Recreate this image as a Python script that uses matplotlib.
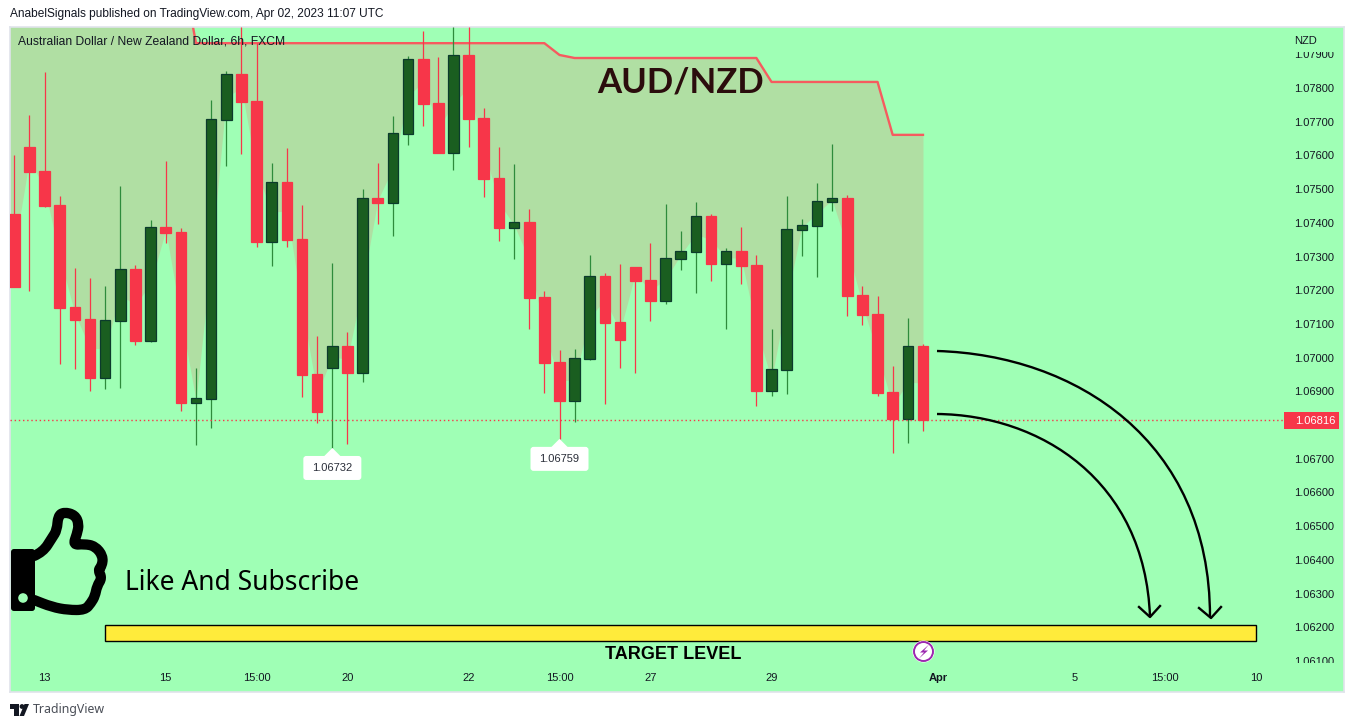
#!/usr/bin/env python3
"""AUD/NZD 6h candle chart with a target level, TradingView style."""

import matplotlib
matplotlib.use("Agg")
import matplotlib.pyplot as plt
from matplotlib.patches import Circle, FancyBboxPatch, PathPatch, Polygon, Rectangle
from matplotlib.path import Path

W, H = 1354, 727
BG = "#9FFFB5"
BAND = "#B0DFA3"
RED = "#F73649"
GREEN = "#1A5E20"
GREEN_EDGE = "#0B3B2C"
GREEN_WICK = "#2E8B3C"

opens = [
    1.07426, 1.07625, 1.07554, 1.07453, 1.07150, 1.07115, 1.06940, 1.07109, 1.07263, 1.07050,
    1.07388, 1.07373, 1.06866, 1.06878, 1.07705, 1.07842, 1.07761, 1.07343, 1.07521, 1.07352,
    1.06952, 1.06970, 1.07035, 1.06955, 1.07474, 1.07459, 1.07664, 1.07886, 1.07756, 1.07607,
    1.07898, 1.07711, 1.07533, 1.07385, 1.07403, 1.07180, 1.06987, 1.06872, 1.06996, 1.07242,
    1.07106, 1.07269, 1.07231, 1.07168, 1.07293, 1.07314, 1.07420, 1.07278, 1.07317, 1.07275,
    1.06901, 1.06964, 1.07379, 1.07391, 1.07462, 1.07474, 1.07186, 1.07130, 1.06898, 1.06818,
    1.07035,
]
closes = [
    1.07210, 1.07551, 1.07450, 1.07147, 1.07112, 1.06940, 1.07112, 1.07263, 1.07050, 1.07388,
    1.07370, 1.06866, 1.06881, 1.07708, 1.07842, 1.07758, 1.07343, 1.07521, 1.07349, 1.06949,
    1.06839, 1.07035, 1.06955, 1.07474, 1.07459, 1.07667, 1.07886, 1.07753, 1.07607, 1.07898,
    1.07708, 1.07530, 1.07385, 1.07403, 1.07177, 1.06984, 1.06872, 1.06999, 1.07242, 1.07103,
    1.07053, 1.07228, 1.07168, 1.07296, 1.07317, 1.07420, 1.07278, 1.07317, 1.07272, 1.06901,
    1.06967, 1.07382, 1.07394, 1.07465, 1.07474, 1.07183, 1.07127, 1.06895, 1.06818, 1.07035,
    1.06816,
]
highs = [
    1.07601, 1.07720, 1.07847, 1.07480, 1.07266, 1.07236, 1.07213, 1.07509, 1.07275, 1.07408,
    1.07583, 1.07385, 1.06970, 1.07764, 1.07850, 1.07981, 1.07933, 1.07578, 1.07622, 1.07453,
    1.07064, 1.07281, 1.07076, 1.07500, 1.07578, 1.07717, 1.07895, 1.07969, 1.07892, 1.07981,
    1.07981, 1.07741, 1.07625, 1.07575, 1.07441, 1.07198, 1.07023, 1.07026, 1.07305, 1.07251,
    1.07278, 1.07269, 1.07340, 1.07456, 1.07376, 1.07462, 1.07426, 1.07325, 1.07388, 1.07305,
    1.07085, 1.07480, 1.07411, 1.07518, 1.07634, 1.07483, 1.07213, 1.07183, 1.06975, 1.07118,
    1.07041,
]
lows = [
    1.07210, 1.07198, 1.07447, 1.06981, 1.06967, 1.06901, 1.06907, 1.06910, 1.07038, 1.07047,
    1.07340, 1.06842, 1.06741, 1.06792, 1.07569, 1.07604, 1.07328, 1.07272, 1.07328, 1.06884,
    1.06806, 1.06732, 1.06744, 1.06928, 1.07397, 1.07361, 1.07631, 1.07687, 1.07607, 1.07557,
    1.07625, 1.07477, 1.07346, 1.07293, 1.07085, 1.06895, 1.06759, 1.06809, 1.06993, 1.06863,
    1.06970, 1.06955, 1.07109, 1.07159, 1.07260, 1.07192, 1.07228, 1.07085, 1.07219, 1.06857,
    1.06886, 1.06892, 1.07302, 1.07239, 1.07435, 1.07124, 1.07097, 1.06886, 1.06717, 1.06747,
    1.06783,
]
upper_band = (
    [1.08171] * 12 + [1.07933] * 24 + [1.07898] + [1.07889] * 13 + [1.07818] * 8 + [1.07661] * 3
)

price_ticks = [1.06100, 1.06200, 1.06300, 1.06400, 1.06500, 1.06600, 1.06700, 1.06900,
               1.07000, 1.07100, 1.07200, 1.07300, 1.07400, 1.07500, 1.07600, 1.07700, 1.07800,
               1.07900]
time_ticks = [2, 10, 16, 22, 30, 36, 42, 50, 61, 70, 76, 82]
time_labels = ["13", "15", "15:00", "20", "22", "15:00", "27", "29", "Apr", "5", "15:00", "10"]

last_price = 1.06816
target_top = 1.06207
target_bottom = 1.06160
target_start = 6
target_end = 82
low_marks = [(21, 1.06732), (36, 1.06759)]

plt.rcParams["font.family"] = ["Liberation Sans", "DejaVu Sans"]


def smooth_path(points):
    """Rounded open path through the midpoints of the given control points."""
    verts = [points[0]]
    codes = [Path.MOVETO]
    for a, b in zip(points[1:-1], points[2:]):
        verts += [a, ((a[0] + b[0]) / 2, (a[1] + b[1]) / 2)]
        codes += [Path.CURVE3, Path.CURVE3]
    verts.append(points[-1])
    codes.append(Path.LINETO)
    return Path(verts, codes)


fig = plt.figure(figsize=(W / 100, H / 100), dpi=100, facecolor="white")

# the panel covers x 10..1344, y 27..692 of the image
ax = fig.add_axes([10 / W, 1 - 692 / H, 1334 / W, 665 / H], facecolor=BG)
ax.set_xlim(-0.284, 87.8)
ax.set_ylim(1.06008, 1.07981)

idx = list(range(len(opens)))
mids = [(o + c) / 2 for o, c in zip(opens, closes)]
# the band runs on past the left edge of the panel
ax.fill_between([-1] + idx, upper_band[:1] + upper_band, mids[:1] + mids, color=BAND, lw=0, zorder=1)
ax.plot(idx, upper_band, color="#F65B5F", lw=1.7, zorder=2)

ax.axhline(last_price, xmax=(1284 - 10) / 1334, color=RED, lw=1, ls=(0, (1, 2)), zorder=6)

for i, (o, c, hi, lo) in enumerate(zip(opens, closes, highs, lows)):
    up = c >= o
    ax.vlines(i, lo, hi, color=GREEN_WICK if up else RED, lw=0.9, zorder=3)
    ax.bar(i, abs(c - o), bottom=min(o, c), width=0.7,
           color=GREEN if up else RED,
           edgecolor=GREEN_EDGE if up else RED,
           linewidth=0.9, zorder=4)

ax.add_patch(Rectangle((target_start, target_bottom), target_end - target_start,
                       target_top - target_bottom, fc="#FFEB3B", ec="black", lw=1, zorder=5))

ax.set_xticks(time_ticks)
ax.set_xticklabels(time_labels, fontsize=8, color="#131722")
ax.get_xticklabels()[8].set_fontweight("bold")
ax.tick_params(axis="x", length=0, pad=-14)

ax.yaxis.tick_right()
ax.set_yticks(price_ticks)
ax.set_yticklabels([f"{p:.5f}" for p in price_ticks], fontsize=8, color="#131722")
ax.tick_params(axis="y", length=0, pad=-36)

# top and bottom price labels are cut off in the scale
scale_clip = Rectangle((1280, H - 663), 70, 611, transform=None)
for label in ax.get_yticklabels():
    label.set_clip_path(scale_clip)
    label.set_clip_on(True)

for side in ax.spines.values():
    side.set_color("#E0E3EB")
    side.set_linewidth(1.2)

# overlay in image pixels for the drawn objects and free text
deco = fig.add_axes([0, 0, 1, 1], facecolor="none", zorder=10)
deco.set_xlim(0, W)
deco.set_ylim(H, 0)
deco.axis("off")

deco.text(10, 14.5, "AnabelSignals published on TradingView.com, Apr 02, 2023 11:07 UTC",
          fontsize=8.6, color="#131722", va="center")
deco.text(18, 41.5, "Australian Dollar / New Zealand Dollar, 6h, FXCM",
          fontsize=8.7, color="#131722", va="center")
deco.text(1294, 41, "NZD", fontsize=8, color="#131722", va="center")
deco.text(681, 83, "AUD/NZD", fontsize=25, fontweight="bold", color="#2B0D0D",
          ha="center", va="center", family=["Lato", "DejaVu Sans"])
deco.text(125, 583, "Like And Subscribe", fontsize=19, color="black", va="center",
          family=["Noto Sans", "DejaVu Sans"])
deco.text(673.5, 654.5, "TARGET LEVEL", fontsize=13, fontweight="bold", color="black",
          ha="center", va="center")
deco.text(33, 709, "TradingView", fontsize=8.9, color="#4A4E57", va="center",
          family=["Noto Sans", "DejaVu Sans"])

# last price tag
deco.add_patch(Rectangle((1284, 412), 55, 17, fc=RED, ec="none"))
deco.text(1295, 420.5, f"{last_price:.5f}", fontsize=8, color="white", va="center")

# low callouts, placed where the price scale puts the lows
for bar, price in low_marks:
    cx, cy = deco.transData.inverted().transform(ax.transData.transform((bar, price)))
    deco.add_patch(Polygon([(cx, cy), (cx - 9, cy + 9), (cx + 9, cy + 9)], fc="white", ec="none"))
    deco.add_patch(FancyBboxPatch((cx - 27, cy + 10), 54, 20, boxstyle="round,pad=2,rounding_size=3",
                                  fc="white", ec="none"))
    deco.text(cx, cy + 20, f"{price:.5f}", fontsize=8, color="#2A2E39", ha="center", va="center")

# hand drawn arrows
curves = [
    [(937, 351), (1075, 355), (1210, 440), (1210, 617)],
    [(937, 414), (1040, 415), (1145, 480), (1150, 617)],
]
heads = [
    [(1199, 608), (1211, 618), (1221, 607)],
    [(1139, 607), (1150, 617), (1160, 606)],
]
for pts in curves:
    deco.add_patch(PathPatch(Path(pts, [Path.MOVETO, Path.CURVE4, Path.CURVE4, Path.CURVE4]),
                             fc="none", ec="black", lw=1.7))
for pts in heads:
    deco.plot(*zip(*pts), color="black", lw=1.7)

# thumbs up icon
hand = [(34, 556), (43, 552), (52, 538), (57, 530), (58, 516), (64, 512), (75, 515), (79, 524),
        (77, 534), (73, 545), (84, 544), (95, 546), (103, 556), (102, 566), (98, 570), (102, 578),
        (97, 586), (95, 596), (91, 603), (85, 610), (68, 610), (52, 607), (34, 600)]
deco.add_patch(PathPatch(smooth_path(hand), fc="none", ec="black", lw=7.4,
                         joinstyle="round", capstyle="round"))
deco.add_patch(FancyBboxPatch((13, 551), 20, 58, boxstyle="round,pad=2,rounding_size=3",
                              fc="black", ec="none"))
deco.add_patch(Circle((23, 598), 4.8, fc=BG, ec="none"))

# lightning badge on the time scale
deco.add_patch(Circle((923.5, 651.5), 11, fc="white", ec="none"))
deco.add_patch(Circle((923.5, 651.5), 9.5, fc="white", ec="#9C27B0", lw=1.4))
bolt = [(929, 644.5), (920, 652.5), (924, 652.5), (919, 658.5), (928, 650.5), (924, 650.5)]
deco.add_patch(Polygon(bolt, fc="#9C27B0", ec="none"))

# TradingView logo
deco.add_patch(Polygon([(10, 704), (19, 704), (19, 716), (14, 716), (14, 709), (10, 709)],
                       fc="#131722", ec="none"))
deco.add_patch(Circle((22, 706.5), 2.4, fc="#131722", ec="none"))
deco.add_patch(Polygon([(24, 716), (29, 704), (24.5, 704), (19.5, 716)], fc="#131722", ec="none"))

fig.savefig("out.png", dpi=100, facecolor="white")
plt.close(fig)
